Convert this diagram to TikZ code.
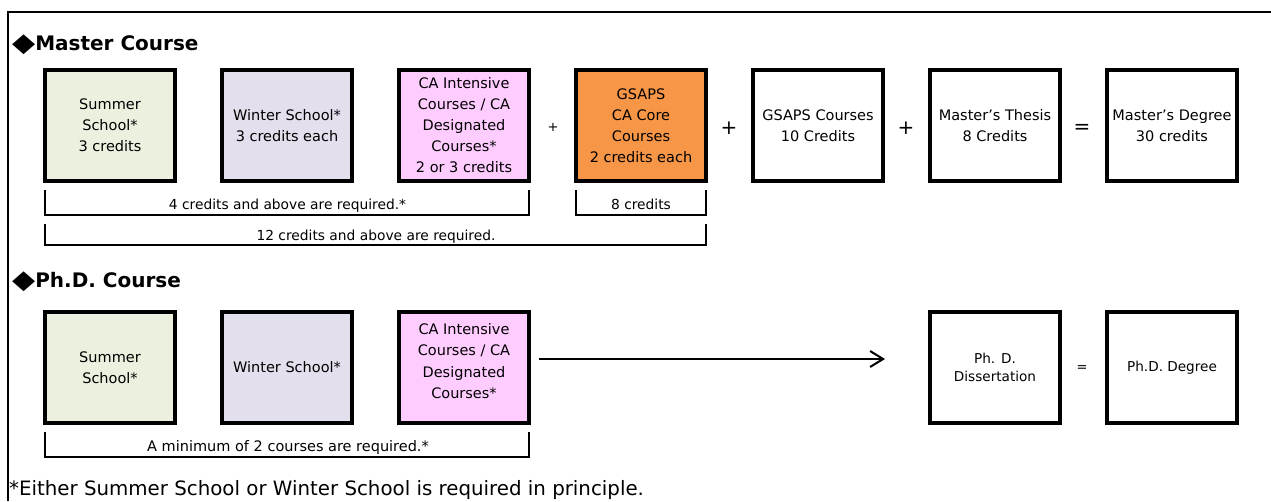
\documentclass[tikz,border=0pt]{standalone}
\usepackage{fontspec}
\setmainfont{DejaVu Sans}
\usepackage{graphicx}
\usetikzlibrary{arrows.meta,calc}
\definecolor{sumgreen}{HTML}{EBF1DE}
\definecolor{winpurple}{HTML}{E4DFEC}
\definecolor{capink}{HTML}{FFCCFF}
\definecolor{coreorange}{HTML}{F79646}
\begin{document}
\begin{tikzpicture}[x=1pt,y=-1pt,
  box/.style={draw, line width=4pt, minimum width=130pt, minimum height=111pt,
    inner sep=0pt, outer sep=0pt, align=center, font=\fontsize{14.5}{21}\selectfont},
  txt/.style={inner sep=0pt, align=center, font=\fontsize{14.5}{21.5}\selectfont},
  brk/.style={line width=2pt},
  brklabel/.style={inner sep=0pt, anchor=base, font=\fontsize{13.8}{16}\selectfont},
  heading/.style={anchor=base west, inner sep=0pt, font=\bfseries\fontsize{20}{24}\selectfont},
  op/.style={inner sep=0pt, font=\fontsize{20}{20}\selectfont},
  opsmall/.style={inner sep=0pt, font=\fontsize{13}{13}\selectfont}]
\useasboundingbox (0,0) rectangle (1271,501);
\fill[white] (0,0) rectangle (1271,501);
% frame
\draw[line width=2pt] (1271,12) -- (8,12) -- (8,501);

% Master course
\node[heading] (h1) at (12,50) {\raisebox{-1pt}{\scalebox{1.5}[1.3]{◆}}Master Course};
\node[box, fill=sumgreen] (ms) at (110,125.5) {Summer\\School*\\3 credits};
\node[box, fill=winpurple] (mw) at (287,125.5) {Winter School*\\3 credits each};
\node[box, fill=capink] (mca) at (464,125.5) {CA Intensive\\Courses / CA\\Designated\\Courses*\\2 or 3 credits};
\node[box, fill=coreorange] (mcore) at (641,125.5) {GSAPS\\CA Core\\Courses\\2 credits each};
\node[box] (mg) at (818,125.5) {GSAPS Courses\\10 Credits};
\node[box] (mt) at (995,125.5) {Master's Thesis\\8 Credits};
\node[box] (md) at (1172,125.5) {Master's Degree\\30 credits};
\node[opsmall] (p1) at (553,127) {+};
\node[op] (p2) at (729,128) {+};
\node[op] (p3) at (906,128) {+};
\node[op] (eq1) at (1082,129) {=};

% brackets
\draw[brk] (ms.west |- 0,190) -- (ms.west |- 0,215) -- (mca.east |- 0,215) -- (mca.east |- 0,190);
\node[brklabel] (b1) at (287.5,209) {4 credits and above are required.*};
\draw[brk] (mcore.west |- 0,190) -- (mcore.west |- 0,215) -- (mcore.east |- 0,215) -- (mcore.east |- 0,190);
\node[brklabel] (b2) at (641,209) {8 credits};
\draw[brk] (ms.west |- 0,224) -- (ms.west |- 0,245) -- (mcore.east |- 0,245) -- (mcore.east |- 0,224);
\node[brklabel] (b3) at (376,240) {12 credits and above are required.};

% Ph.D. course
\node[heading] (h2) at (12,287) {\raisebox{-1pt}{\scalebox{1.5}[1.3]{◆}}Ph.D. Course};
\node[box, fill=sumgreen] (ps) at (110,367.5) {Summer\\School*};
\node[box, fill=winpurple] (pw) at (287,367.5) {Winter School*};
\node[box, fill=capink] (pca) at (464,367.5) {};
\node[txt] (pcat) at (464,361) {CA Intensive\\Courses / CA\\Designated\\Courses*};
\node[box, font=\fontsize{13.6}{18}\selectfont] (pd) at (995,367.5) {Ph. D.\\Dissertation};
\node[box, font=\fontsize{13.6}{18}\selectfont] (pdeg) at (1172,367.5) {Ph.D. Degree};
\node[opsmall] (eq2) at (1082,369) {=};
\draw[line width=2pt, -{Straight Barb[length=13pt,width=16pt,line width=2pt]}]
  ($(pca.east)+(10,-8.5)$) -- ($(pd.west)+(-45,-8.5)$);

\draw[brk] (ps.west |- 0,432) -- (ps.west |- 0,457) -- (pca.east |- 0,457) -- (pca.east |- 0,432);
\node[brklabel, font=\fontsize{14.5}{16}\selectfont] (b4) at (288,451) {A minimum of 2 courses are required.*};

% footnote
\node[anchor=base west, inner sep=0pt, font=\fontsize{19.8}{22}\selectfont] (foot) at (9,495)
  {*Either Summer School or Winter School is required in principle.};
\end{tikzpicture}
\end{document}
